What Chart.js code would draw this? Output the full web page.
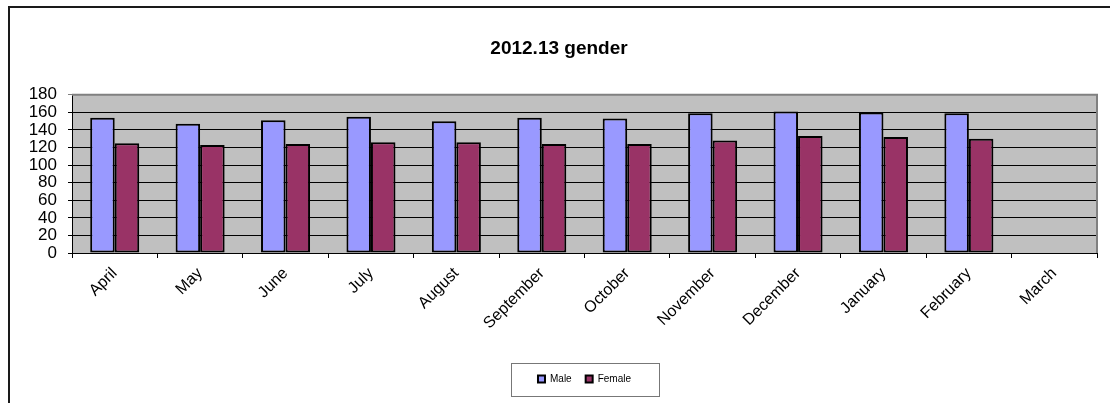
<!DOCTYPE html>
<html>
<head>
<meta charset="utf-8">
<script src="https://cdn.jsdelivr.net/npm/chart.js@4/dist/chart.umd.min.js"></script>
<style>
    html, body { margin: 0; padding: 0; background: #fff; }
    #wrap { position: relative; width: 1110px; height: 403px; overflow: hidden; }
    #frame { position: absolute; left: 8px; top: 6px; width: 1200px; height: 500px;
             border-top: 2px solid #1a1a1a; border-left: 2px solid #1a1a1a; pointer-events: none; }
    canvas { position: absolute; left: 0; top: 0; }
</style>
</head>
<body>
<div id="wrap">
    <canvas id="genderChart" width="1110" height="403"></canvas>
    <div id="frame"></div>
</div>
<script>
const months = ['April', 'May', 'June', 'July', 'August', 'September', 'October',
    'November', 'December', 'January', 'February', 'March'];
const maleCounts = [154, 147, 151, 155, 150, 154, 153, 159, 161, 160, 159, null];
const femaleCounts = [125, 123, 124, 126, 126, 124, 124, 128, 133, 132, 130, null];
const yTicks = [0, 20, 40, 60, 80, 100, 120, 140, 160, 180];

const FONT = 'Arial, "Liberation Sans", sans-serif';

// grey plot area with a grey border on top and right, like the old Excel look
const plotArea = {
    id: 'plotArea',
    beforeDraw(chart) {
        const { ctx, chartArea: a } = chart;
        ctx.save();
        ctx.fillStyle = '#c0c0c0';
        ctx.fillRect(a.left, a.top, a.right - a.left, a.bottom - a.top);
        ctx.restore();
    },
    beforeDatasetsDraw(chart) {
        const { ctx, chartArea: a } = chart;
        ctx.save();
        ctx.strokeStyle = '#808080';
        ctx.lineWidth = 2;
        ctx.beginPath();
        ctx.moveTo(a.left, a.top);
        ctx.lineTo(a.right, a.top);
        ctx.lineTo(a.right, a.bottom);
        ctx.stroke();
        ctx.restore();
    }
};

// box around the legend
const legendFrame = {
    id: 'legendFrame',
    afterDraw(chart) {
        const boxes = chart.legend.legendHitBoxes;
        if (!boxes || !boxes.length) return;
        const minX = Math.min(...boxes.map(b => b.left));
        const maxX = Math.max(...boxes.map(b => b.left + b.width));
        const midY = boxes[0].top + boxes[0].height / 2;
        const midX = (minX + maxX) / 2;
        const w = 148, h = 33;
        const ctx = chart.ctx;
        ctx.save();
        ctx.strokeStyle = '#777';
        ctx.lineWidth = 1;
        ctx.strokeRect(Math.round(midX - w / 2) + 0.5, Math.round(midY - h / 2) + 0.5, w, h);
        ctx.restore();
    }
};

const ctx = document.getElementById('genderChart').getContext('2d');
new Chart(ctx, {
    type: 'bar',
    data: {
        labels: months,
        datasets: [{
            label: 'Male',
            data: maleCounts,
            backgroundColor: '#9999ff',
            borderColor: '#000',
            borderWidth: 2,
            borderSkipped: false
        }, {
            label: 'Female',
            data: femaleCounts,
            backgroundColor: '#993366',
            borderColor: '#000',
            borderWidth: 2,
            borderSkipped: false
        }]
    },
    options: {
        responsive: false,
        animation: false,
        events: [],
        layout: { padding: { left: 21, right: 13, bottom: 9 } },
        datasets: {
            bar: { categoryPercentage: 0.574, barPercentage: 1.0 }
        },
        plugins: {
            title: {
                display: true,
                text: '2012.13 gender',
                color: '#000',
                font: { family: FONT, size: 19, weight: 'bold' },
                padding: { top: 37, bottom: 35 }
            },
            legend: {
                position: 'bottom',
                fullSize: false,
                labels: {
                    color: '#000',
                    font: { family: FONT, size: 10 },
                    boxWidth: 7,
                    boxHeight: 7,
                    padding: 14
                }
            },
            tooltip: { enabled: false }
        },
        scales: {
            x: {
                grid: {
                    drawOnChartArea: false,
                    drawTicks: true,
                    tickLength: 5,
                    color: '#000'
                },
                border: { display: true, color: '#000', width: 1 },
                ticks: {
                    color: '#000',
                    font: { family: FONT, size: 16 },
                    minRotation: 45,
                    maxRotation: 45,
                    padding: 6
                },
                afterFit(scale) { scale.height = 107; }
            },
            y: {
                min: 0,
                max: 180,
                afterBuildTicks(scale) {
                    scale.ticks = yTicks.map(v => ({ value: v }));
                },
                grid: {
                    color: c => (c.tick && c.tick.value === 180) ? '#808080' : '#000',
                    lineWidth: 1,
                    tickLength: 4
                },
                border: { display: true, color: '#000', width: 1 },
                ticks: {
                    color: '#000',
                    autoSkip: false,
                    font: { family: FONT, size: 17, lineHeight: 1 },
                    padding: 11
                },
                afterFit(scale) { scale.width = 51; }
            }
        }
    },
    plugins: [plotArea, legendFrame]
});
</script>
</body>
</html>
